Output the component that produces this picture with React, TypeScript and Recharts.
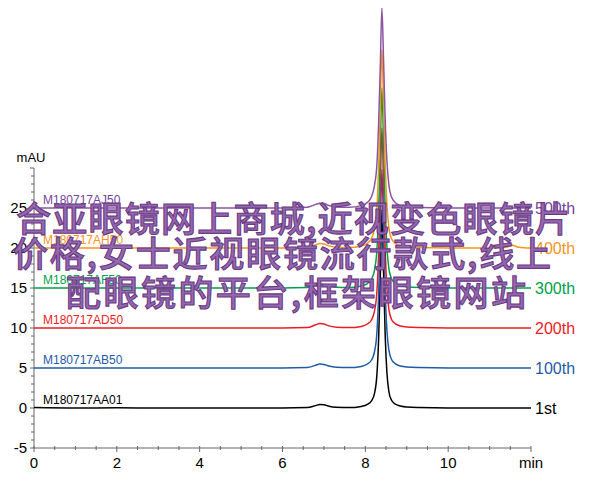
import { LineChart, Line, XAxis, YAxis, ReferenceLine } from "recharts";

// retention time (min), shared by all injections
const TIME = [
  0, 1, 2, 3, 4, 5, 6, 6.6, 6.8, 6.9, 7.0, 7.1, 7.3, 7.6, 7.9, 8.05, 8.15, 8.22, 8.28, 8.32,
  8.36, 8.4, 8.44, 8.48, 8.52, 8.57, 8.63, 8.72, 8.85, 9.0, 9.3, 10, 11, 11.4, 11.55, 11.7, 12,
];

// absorbance above each trace's own baseline (mAU)
const AA01 = [0.05, 0, 0.02, 0, 0, 0, 0, 0.05, 0.3, 0.45, 0.42, 0.25, 0.08, 0.05, 0.2, 0.45, 0.9, 1.8, 4.2, 8.5, 16, 24.8, 17, 9, 4.5, 2.0, 1.0, 0.5, 0.25, 0.12, 0.05, 0, 0, 0, 0, 0, 0];
const AB50 = [0, 0, 0, 0, 0, 0, 0, 0.05, 0.35, 0.5, 0.45, 0.28, 0.1, 0.05, 0.2, 0.5, 1.0, 2.0, 4.5, 9, 16.5, 24.8, 17.5, 9.5, 4.8, 2.2, 1.1, 0.55, 0.25, 0.12, 0.05, 0, 0, 0, 0, 0, 0];
const AD50 = [0, 0, 0, 0, 0, 0, 0, 0.05, 0.4, 0.55, 0.5, 0.3, 0.1, 0.05, 0.2, 0.5, 1.0, 2.1, 4.6, 9.2, 16.8, 25, 17.8, 9.8, 5, 2.3, 1.1, 0.55, 0.25, 0.12, 0.05, 0, 0, 0, 0, 0, 0];
const AF50 = [0, 0, 0, 0, 0, 0, 0, 0.05, 0.35, 0.5, 0.45, 0.28, 0.1, 0.05, 0.25, 0.55, 1.1, 2.2, 4.8, 9.5, 17, 25, 18, 10, 5.2, 2.4, 1.2, 0.6, 0.3, 0.15, 0.05, 0, 0, 0, 0, 0, 0];
const AH50 = [0, 0, 0, 0, 0, 0, 0, 0.05, 0.4, 0.55, 0.5, 0.3, 0.1, 0.05, 0.25, 0.6, 1.2, 2.4, 5, 10, 17.2, 24.8, 18.2, 10.5, 5.5, 2.5, 1.2, 0.6, 0.3, 0.15, 0.05, 0, 0, 0.1, 0.35, 0.1, 0];
const AJ50 = [0, 0, 0, 0, 0, 0, 0, 0.1, 0.45, 0.6, 0.55, 0.35, 0.12, 0.08, 0.3, 0.7, 1.4, 2.8, 5.5, 10.5, 17.5, 25, 18.5, 11, 6, 2.8, 1.4, 0.7, 0.3, 0.15, 0.05, 0, 0, 0, 0, 0, 0];

const TRACES = [AA01, AB50, AD50, AF50, AH50, AJ50];
const SAMPLES = ["M180717AA01", "M180717AB50", "M180717AD50", "M180717AF50", "M180717AH50", "M180717AJ50"];
const INJECTIONS = ["1st", "100th", "200th", "300th", "400th", "500th"];
const OFFSETS = [0, 5, 10, 15, 20, 25];
const COLORS = ["#000000", "#1f5ba6", "#ed1c24", "#00a14b", "#f7941d", "#8c56a3"];
const TEXT_COLORS = ["#000000", "#1f5ba6", "#ed1c24", "#00a14b", "#f7941d", "#73449a"];

const Y_TICKS = Array.from({ length: 36 }, (_, i) => i - 5);
const X_TICKS = Array.from({ length: 25 }, (_, i) => i / 2);
const X_LABELS: Record<number, string> = { 0: "0", 2: "2", 4: "4", 6: "6", 8: "8", 10: "10", 12: "min" };

const WATERMARK = [
  "合亚眼镜网上商城,近视变色眼镜片",
  "价格,女士近视眼镜流行款式,线上",
  "配眼镜的平台,框架眼镜网站",
];

const table = TIME.map((t, i) => {
  const row: Record<string, number> = { t };
  TRACES.forEach((tr, k) => {
    row[`s${k}`] = tr[i] + OFFSETS[k];
  });
  return row;
});

const FONT = "'Liberation Sans', Arial, Helvetica, sans-serif";
const AXIS = "#666";

function YTick(p: any) {
  const v = p.payload.value;
  const major = v % 5 === 0;
  return (
    <g>
      <line x1={p.x - (major ? 4 : 3)} x2={p.x} y1={p.y} y2={p.y} stroke={AXIS} strokeWidth={1} />
      {major && v < 30 && (
        <text x={p.x - 7} y={p.y} dy={5.3} textAnchor="end" fontSize={15} fontFamily={FONT} fill="#000">
          {v}
        </text>
      )}
      {v === 30 && (
        <text x={p.x - 3} y={p.y - 6} textAnchor="middle" fontSize={13} fontFamily={FONT} fill="#000">
          mAU
        </text>
      )}
    </g>
  );
}

function XTick(p: any) {
  const v = p.payload.value;
  const lab = X_LABELS[v];
  return (
    <g>
      <line x1={p.x} x2={p.x} y1={p.y - 2} y2={p.y + (lab ? 4 : 2)} stroke={AXIS} strokeWidth={1} />
      {lab && (
        <text x={p.x} y={p.y + 20} textAnchor="middle" fontSize={15} fontFamily={FONT} fill="#000">
          {lab}
        </text>
      )}
    </g>
  );
}

function traceLabel(k: number) {
  const last = TIME.length - 1;
  return (p: any) => {
    if (p.index === 0) {
      return (
        <text x={p.x + 9} y={p.y - 4} fontSize={12} fontFamily={FONT} fill={TEXT_COLORS[k]}>
          {SAMPLES[k]}
        </text>
      );
    }
    if (p.index === last) {
      return (
        <text x={p.x + 4} y={p.y + 5.7} fontSize={16} fontFamily={FONT} fill={TEXT_COLORS[k]}>
          {INJECTIONS[k]}
        </text>
      );
    }
    return <g />;
  };
}

export default function App() {
  return (
    <div style={{ position: "absolute", left: 0, top: 0, width: 600, height: 504, background: "#fff" }}>
      <LineChart width={600} height={504} data={table} margin={{ top: 8, right: 69, bottom: 0, left: 0 }}>
        <XAxis
          dataKey="t"
          type="number"
          domain={[0, 12]}
          ticks={X_TICKS}
          interval={0}
          tick={<XTick />}
          tickLine={false}
          tickSize={0}
          tickMargin={0}
          axisLine={{ stroke: AXIS }}
          height={56}
        />
        <YAxis
          type="number"
          domain={[-5, 50]}
          allowDataOverflow
          ticks={Y_TICKS}
          interval={0}
          tick={<YTick />}
          tickLine={false}
          tickSize={0}
          tickMargin={0}
          axisLine={false}
          width={34}
        />
        <ReferenceLine segment={[{ x: 0, y: -5 }, { x: 0, y: 30 }]} stroke={AXIS} strokeWidth={1} />
        {TRACES.map((_, k) => (
          <Line
            key={k}
            dataKey={`s${k}`}
            type="monotone"
            stroke={COLORS[k]}
            strokeWidth={1.5}
            dot={false}
            label={traceLabel(k)}
            isAnimationActive={false}
          />
        ))}
      </LineChart>
      <svg
        width={600}
        height={504}
        style={{ position: "absolute", left: 0, top: 0, pointerEvents: "none" }}
      >
        {[
          { x: 16, y: 232, len: 554 },
          { x: 13, y: 267, len: 538 },
          { x: 66, y: 306, len: 460 },
        ].map((pos, i) => (
          <text
            key={i}
            x={pos.x}
            y={pos.y}
            textLength={pos.len}
            lengthAdjust="spacing"
            fontSize={35}
            fontWeight={500}
            fontFamily="'Noto Sans CJK SC', sans-serif"
            fill="#9468ad"
            stroke="#6a3a86"
            strokeWidth={1.1}
          >
            {WATERMARK[i]}
          </text>
        ))}
      </svg>
    </div>
  );
}
